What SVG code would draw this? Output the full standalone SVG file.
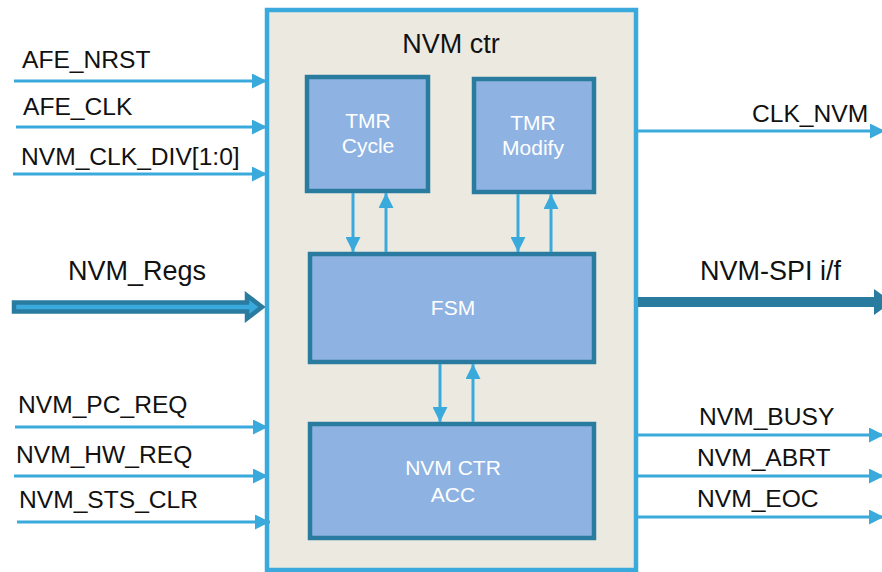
<svg xmlns="http://www.w3.org/2000/svg" width="882" height="572" viewBox="0 0 882 572">
<defs>
<style>
.lbl{font-family:"Liberation Sans",Arial,sans-serif;font-size:24.6px;fill:#111}
.big{font-family:"Liberation Sans",Arial,sans-serif;font-size:27px;fill:#111}
.in{font-family:"Liberation Sans",Arial,sans-serif;font-size:21px;fill:#fff;text-anchor:middle}
.blk{fill:#8EB3E2;stroke:#2A7BA0;stroke-width:4.5}
.w{stroke:#3AAADC;stroke-width:3;fill:none;marker-end:url(#ah)}
</style>
<marker id="ah" markerUnits="userSpaceOnUse" markerWidth="15" markerHeight="15" viewBox="0 0 15 15" refX="15" refY="7.5" orient="auto">
<path d="M0,0 L15,7.5 L0,15 z" fill="#3AAADC"/>
</marker>
</defs>
<rect width="882" height="572" fill="#fff"/>
<g id="nvm_ctr">
<rect x="267" y="10" width="369" height="560" fill="#ECEAE0" stroke="#3AAADC" stroke-width="4.5"/>
<text x="451" y="53" class="big" text-anchor="middle">NVM ctr</text>
</g>
<g id="tmr_cycle">
<rect class="blk" x="307" y="77" width="121" height="114"/>
<text class="in" x="368" y="128">TMR</text>
<text class="in" x="368" y="153">Cycle</text>
</g>
<g id="tmr_modify">
<rect class="blk" x="474" y="79" width="120" height="113"/>
<text class="in" x="533" y="130">TMR</text>
<text class="in" x="533" y="155">Modify</text>
</g>
<g id="fsm">
<rect class="blk" x="310" y="254" width="284" height="108"/>
<text class="in" x="453" y="315">FSM</text>
</g>
<g id="acc">
<rect class="blk" x="310" y="424" width="284" height="114"/>
<text class="in" x="453" y="475">NVM CTR</text>
<text class="in" x="453" y="502">ACC</text>
</g>
<g id="connectors">
<line class="w" x1="14" y1="81" x2="267" y2="81"/>
<line class="w" x1="16" y1="127" x2="267" y2="127"/>
<line class="w" x1="13" y1="174" x2="267" y2="174"/>
<line class="w" x1="15" y1="427" x2="268" y2="427"/>
<line class="w" x1="14" y1="476" x2="268" y2="476"/>
<line class="w" x1="17" y1="522" x2="270" y2="522"/>
<line class="w" x1="638" y1="131" x2="885" y2="131"/>
<line class="w" x1="638" y1="435" x2="884" y2="435"/>
<line class="w" x1="638" y1="476" x2="884" y2="476"/>
<line class="w" x1="638" y1="517" x2="884" y2="517"/>
<line class="w" x1="353" y1="193" x2="353" y2="252"/>
<line class="w" x1="386" y1="252" x2="386" y2="193"/>
<line class="w" x1="518" y1="194" x2="518" y2="252"/>
<line class="w" x1="551" y1="252" x2="551" y2="194"/>
<line class="w" x1="440" y1="364" x2="440" y2="422"/>
<line class="w" x1="473" y1="422" x2="473" y2="364"/>
<polygon points="14,302.5 247,302.5 247,295.5 262,307 247,318.5 247,311.5 14,311.5" fill="#3AAADC" stroke="#2A7BA0" stroke-width="4.5"/>
<polygon points="638,297 874,297 874,289 892,302 874,315 874,307 638,307" fill="#2A7BA0"/>
</g>
<g id="labels">
<text class="lbl" x="22" y="68">AFE_NRST</text>
<text class="lbl" x="23" y="115">AFE_CLK</text>
<text class="lbl" x="21" y="165">NVM_CLK_DIV[1:0]</text>
<text class="big" x="68" y="280">NVM_Regs</text>
<text class="lbl" x="18" y="413">NVM_PC_REQ</text>
<text class="lbl" x="16" y="463">NVM_HW_REQ</text>
<text class="lbl" x="19" y="508">NVM_STS_CLR</text>
<text class="lbl" x="752" y="122">CLK_NVM</text>
<text class="big" x="700" y="280">NVM-SPI i/f</text>
<text class="lbl" x="699" y="425">NVM_BUSY</text>
<text class="lbl" x="697" y="466">NVM_ABRT</text>
<text class="lbl" x="697" y="507">NVM_EOC</text>
</g>
</svg>
